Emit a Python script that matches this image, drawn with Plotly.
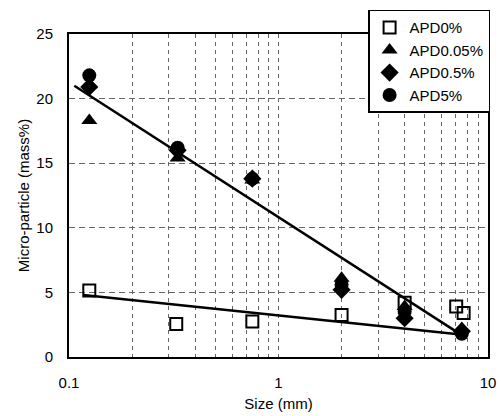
import plotly.graph_objects as go

# ---- data ----
size_apd0 = [0.125, 0.325, 0.75, 2.0, 4.0, 7.05, 7.65]
apd0 = [5.15, 2.55, 2.75, 3.25, 4.2, 3.9, 3.4]

size_filled = [0.125, 0.33, 0.75, 2.0, 4.0, 7.5]
apd005 = [18.3, 15.4, 13.7, 6.1, 3.9, 2.2]
apd05 = [20.9, 16.0, 13.8, 5.2, 3.0, 2.0]
apd5 = [21.8, 16.2, 13.8, 5.6, 3.5, 1.8]

# fitted trend lines (end points)
fit_filled_x = [0.106, 7.4]
fit_filled_y = [21.0, 1.75]
fit_apd0_x = [0.117, 7.4]
fit_apd0_y = [4.8, 1.75]

x_tickvals = [0.1, 1, 10]
x_ticktext = ["0.1", "1", "10"]
x_minor = [0.2, 0.3, 0.4, 0.5, 0.6, 0.7, 0.8, 0.9, 2, 3, 4, 5, 6, 7, 8, 9]
y_tickvals = [0, 5, 10, 15, 20, 25]

FONT = "Arial, Liberation Sans, sans-serif"

fig = go.Figure()

fig.add_trace(go.Scatter(x=fit_filled_x, y=fit_filled_y, mode="lines",
                         line=dict(color="black", width=2.5), showlegend=False,
                         hoverinfo="skip"))
fig.add_trace(go.Scatter(x=fit_apd0_x, y=fit_apd0_y, mode="lines",
                         line=dict(color="black", width=2.5), showlegend=False,
                         hoverinfo="skip"))

fig.add_trace(go.Scatter(x=size_apd0, y=apd0, mode="markers", name="APD0%",
                         marker=dict(symbol="square-open", size=12, color="black",
                                     line=dict(width=2, color="black"))))
fig.add_trace(go.Scatter(x=size_filled, y=apd005, mode="markers", name="APD0.05%",
                         marker=dict(symbol="triangle-up", size=14, color="black")))
fig.add_trace(go.Scatter(x=size_filled, y=apd05, mode="markers", name="APD0.5%",
                         marker=dict(symbol="diamond", size=14, color="black")))
fig.add_trace(go.Scatter(x=size_filled, y=apd5, mode="markers", name="APD5%",
                         marker=dict(symbol="circle", size=14, color="black")))

grid = dict(gridcolor="#666666", gridwidth=1, griddash="4px,4px")

fig.update_layout(
    width=501, height=416,
    margin=dict(l=69, r=13, t=34, b=59, autoexpand=False),
    paper_bgcolor="white", plot_bgcolor="white",
    font=dict(family=FONT, size=15, color="black"),
    showlegend=True,
    legend=dict(x=1.005, y=1.075, xanchor="right", yanchor="top",
                bgcolor="white", bordercolor="black", borderwidth=1.5,
                font=dict(family=FONT, size=15, color="black"),
                tracegroupgap=0, itemwidth=30),
    xaxis=dict(type="log", range=[-1, 1], tickvals=x_tickvals, ticktext=x_ticktext,
               showline=True, linecolor="black", linewidth=2, mirror=True,
               ticks="", ticklabelstandoff=11, zeroline=False,
               tickfont=dict(size=15),
               showgrid=True, **grid,
               minor=dict(tickvals=x_minor, showgrid=True, ticks="", **grid),
               title=dict(text="Size (mm)", font=dict(size=15), standoff=8)),
    yaxis=dict(range=[0, 25], tickvals=y_tickvals,
               showline=True, linecolor="black", linewidth=2, mirror=True,
               ticks="", ticklabelstandoff=11, zeroline=False,
               tickfont=dict(size=15),
               showgrid=True, gridcolor="#666666", gridwidth=1, griddash="6px,4px",
               title=dict(text="Micro-particle (mass%)", font=dict(size=15), standoff=3)),
)

fig.write_html("out.html", config={"displayModeBar": False},
               post_script="document.body.style.margin='0';document.body.style.overflow='hidden';")
